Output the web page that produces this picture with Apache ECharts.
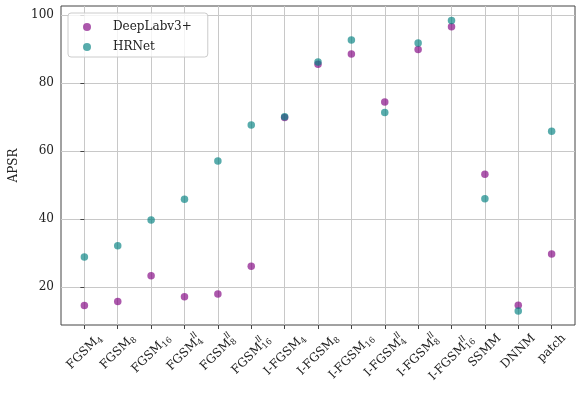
<!DOCTYPE html>
<html>
<head>
<meta charset="utf-8">
<script src="https://cdn.jsdelivr.net/npm/echarts@6/dist/echarts.min.js"></script>
<style>
  html, body { margin: 0; padding: 0; background: #fff; }
  #chart { width: 583px; height: 397px; }
</style>
</head>
<body>
<div id="chart"></div>
<script>
// x labels: base name, subscript, superscript
const categories = ['FGSM', 'FGSM', 'FGSM', 'FGSM', 'FGSM', 'FGSM',
  'I-FGSM', 'I-FGSM', 'I-FGSM', 'I-FGSM', 'I-FGSM', 'I-FGSM', 'SSMM', 'DNNM', 'patch']
const subs = ['4', '8', '16', '4', '8', '16', '4', '8', '16', '4', '8', '16', '', '', '']
const sups = ['', '', '', 'll', 'll', 'll', '', '', '', 'll', 'll', 'll', '', '', '']

// APSR values
const deeplab = [14.5, 15.7, 23.3, 17.1, 17.9, 26.1, 69.8, 85.5, 88.5, 74.4, 89.8, 96.5, 53.1, 14.6, 29.7]
const hrnet = [28.8, 32.1, 39.7, 45.8, 57.0, 67.6, 70.0, 86.1, 92.6, 71.3, 91.7, 98.3, 45.9, 12.9, 65.8]

const yTicks = [20, 40, 60, 80, 100]

const FONT = '"DejaVu Serif", "Liberation Serif", serif'
const xTicks = categories.map((_, i) => i)

const chart = echarts.init(document.getElementById('chart'))

chart.setOption({
  backgroundColor: '#fff',
  animation: false,
  grid: { left: 61, right: 8, top: 6, bottom: 72, show: true, borderColor: '#444', borderWidth: 1 },
  legend: {
    left: 68,
    top: 13,
    orient: 'vertical',
    data: ['DeepLabv3+', 'HRNet'],
    icon: 'circle',
    itemWidth: 14,
    itemHeight: 8,
    itemGap: 6,
    padding: [7, 16, 3, 15],
    backgroundColor: 'rgba(255,255,255,0.8)',
    borderColor: '#ccc',
    borderWidth: 1,
    borderRadius: 3,
    textStyle: { fontFamily: FONT, fontSize: 12, color: '#222', lineHeight: 14, padding: [0, 0, 0, 14] },
  },
  xAxis: {
    type: 'value',
    min: -0.7,
    max: 14.7,
    axisLine: { show: false },
    axisTick: { show: true, customValues: xTicks, length: 4, lineStyle: { color: '#444' } },
    axisLabel: { show: false },
    splitLine: { show: false },
  },
  yAxis: {
    type: 'value',
    min: 8.8,
    max: 102.6,
    name: 'APSR',
    nameLocation: 'middle',
    nameGap: 41,
    nameTextStyle: { fontFamily: FONT, fontSize: 12, color: '#222' },
    axisLine: { show: false },
    axisTick: { show: true, customValues: yTicks, length: 4, lineStyle: { color: '#444' } },
    axisLabel: { customValues: yTicks, fontFamily: FONT, fontSize: 12, color: '#222', margin: 7 },
    splitLine: { show: true, lineStyle: { color: '#c8c8c8', width: 1 } },
  },
  series: [
    {
      name: 'DeepLabv3+',
      type: 'scatter',
      symbolSize: 7.5,
      itemStyle: { color: 'rgba(128,0,128,0.82)' },
      data: deeplab.map((v, i) => [i, v]),
      markLine: {
        silent: true,
        symbol: 'none',
        label: { show: false },
        lineStyle: { color: '#c8c8c8', width: 1, type: 'solid' },
        data: xTicks.map(i => ({ xAxis: i })),
        z: 0,
      },
    },
    {
      name: 'HRNet',
      type: 'scatter',
      symbolSize: 7.5,
      itemStyle: { color: 'rgba(0,128,128,0.82)' },
      data: hrnet.map((v, i) => [i, v]),
    },
  ],
})

// rotated tick labels with sub/superscripts, laid out like matplotlib (rotation 45, centred box)
const ctx = document.createElement('canvas').getContext('2d')
const measure = (t, font) => { ctx.font = font; return ctx.measureText(t).width }
const mainFont = '12px ' + FONT
const scriptFont = '8.4px ' + FONT
const supFont = 'italic 8.4px ' + FONT
const axisY = chart.convertToPixel({ yAxisIndex: 0 }, 8.8)
const labelTop = axisY + 7
const r2 = Math.SQRT2

const graphics = categories.map((name, i) => {
  const lm = measure(name, mainFont)
  const ls = Math.max(subs[i] ? measure(subs[i], scriptFont) : 0, sups[i] ? measure(sups[i], supFont) : 0)
  const L = lm + ls
  const h = sups[i] ? 16 : 12
  const tx = chart.convertToPixel({ xAxisIndex: 0 }, i)
  const children = [{
    type: 'text', x: -L, y: 0,
    style: { text: name, font: mainFont, fill: '#222', align: 'left', verticalAlign: 'middle' },
  }]
  if (subs[i]) children.push({
    type: 'text', x: -ls, y: 3.5,
    style: { text: subs[i], font: scriptFont, fill: '#222', align: 'left', verticalAlign: 'middle' },
  })
  if (sups[i]) children.push({
    type: 'text', x: -ls, y: -5.5,
    style: { text: sups[i], font: supFont, fill: '#222', align: 'left', verticalAlign: 'middle' },
  })
  return {
    type: 'group',
    x: tx + L / (2 * r2),
    y: labelTop + h / (2 * r2),
    rotation: Math.PI / 4,
    children,
  }
})

chart.setOption({ graphic: graphics })
</script>
</body>
</html>
